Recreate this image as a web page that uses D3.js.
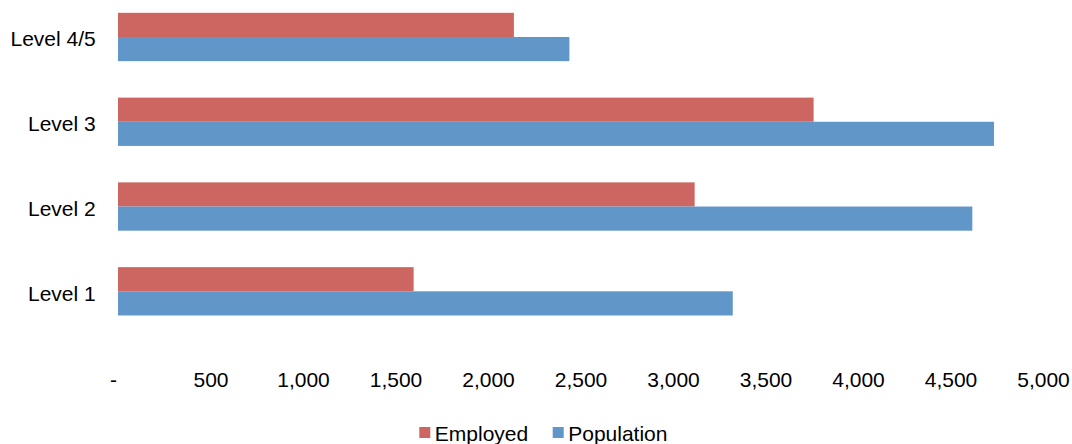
<!DOCTYPE html>
<html>
<head>
<meta charset="utf-8">
<script src="https://cdn.jsdelivr.net/npm/d3@7"></script>
<style>
  html, body { margin: 0; padding: 0; background: #fff; }
  svg { display: block; }
  text { font-family: "Liberation Sans", Arial, sans-serif; font-size: 21px; fill: #000; }
</style>
</head>
<body>
<svg id="chart" width="1072" height="444"></svg>
<script>
// Categories listed top to bottom
const categories = ["Level 4/5", "Level 3", "Level 2", "Level 1"];
const seriesNames = ["Employed", "Population"];
const employed = [2140, 3760, 3117, 1598];
const population = [2440, 4735, 4618, 3323];
const tickValues = [0, 500, 1000, 1500, 2000, 2500, 3000, 3500, 4000, 4500, 5000];
const tickLabels = ["-", "500", "1,000", "1,500", "2,000", "2,500", "3,000", "3,500", "4,000", "4,500", "5,000"];
const colors = ["#CD6660", "#6096C8"];

const svg = d3.select("#chart");

const x = d3.scaleLinear().domain([0, 5000]).range([118, 1043]);
const y = d3.scaleBand().domain(categories).range([-5.4, 333.7])
  .paddingInner(0.43).paddingOuter(0.215);
const ySeries = d3.scaleBand().domain(seriesNames).range([0, y.bandwidth()]);

const rows = categories.map((c, i) => ({ cat: c, values: [employed[i], population[i]] }));

// Bars
const groups = svg.append("g").selectAll("g").data(rows).join("g")
  .attr("transform", d => `translate(0,${y(d.cat)})`);
groups.selectAll("rect")
  .data(d => d.values.map((v, k) => ({ name: seriesNames[k], value: v, k })))
  .join("rect")
  .attr("x", x(0))
  .attr("y", d => ySeries(d.name))
  .attr("width", d => x(d.value) - x(0))
  .attr("height", ySeries.bandwidth())
  .attr("fill", d => colors[d.k]);

// Category labels
const yAxis = d3.axisLeft(y).tickSize(0).tickPadding(0);
const gy = svg.append("g").attr("transform", "translate(95.7,0)").call(yAxis);
gy.select(".domain").remove();
gy.selectAll("text")
  .attr("dy", null)
  .attr("y", 9.5)
  .attr("x", 0)
  .style("font-size", "21px")
  .style("font-family", '"Liberation Sans", Arial, sans-serif')
  .attr("fill", "#000");

// Value axis labels
const xAxis = d3.axisBottom(x).tickValues(tickValues)
  .tickFormat((d, i) => tickLabels[i]).tickSize(0).tickPadding(0);
const gx = svg.append("g").attr("transform", "translate(0,387.3)").call(xAxis);
gx.select(".domain").remove();
gx.selectAll("text")
  .attr("dy", null)
  .attr("y", 0)
  .attr("dx", (d, i) => i === 0 ? -5 : 0)
  .style("font-size", "21px")
  .style("font-family", '"Liberation Sans", Arial, sans-serif')
  .attr("fill", "#000");

// Legend
const legendX = [419.3, 552.7];
const legend = svg.append("g").selectAll("g").data(seriesNames).join("g")
  .attr("transform", (d, i) => `translate(${legendX[i]},0)`);
legend.append("rect")
  .attr("x", 0).attr("y", 427).attr("width", 11).attr("height", 11)
  .attr("fill", (d, i) => colors[i]);
legend.append("text")
  .attr("x", 15.5).attr("y", 440.7)
  .text(d => d);
</script>
</body>
</html>
